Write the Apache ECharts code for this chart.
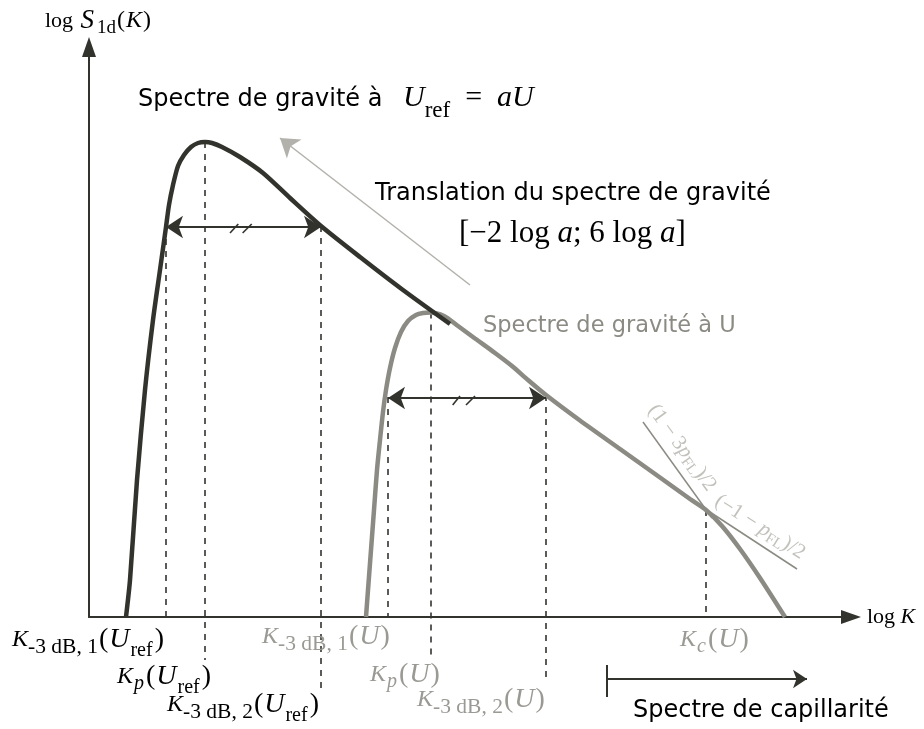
<!DOCTYPE html>
<html>
<head>
<meta charset="utf-8">
<script src="https://cdn.jsdelivr.net/npm/echarts@6/dist/echarts.min.js"></script>
<style>
html, body { margin: 0; padding: 0; background: #fff; }
#chart { width: 924px; height: 729px; }
</style>
</head>
<body>
<div id="chart"></div>
<script>
// Schematic units: x = log K, y = log S_1d(K) (arbitrary scale)
const X_MAX = 95.25;
const Y_MAX = 114;

// gravity spectrum at U_ref = aU (shifted spectrum)
const refCurve = [
  [4.625, 0], [5.125, 7.4], [6, 27.4], [7, 45.4], [8, 59.4], [8.875, 69.4],
  [9.625, 78], [10, 82.4], [10.5, 86.4], [11.125, 90.2], [11.875, 92.4],
  [12.75, 94], [13.625, 94.8], [14.5, 95], [15.375, 94.8], [16.625, 94],
  [18.875, 92], [21.75, 88.8], [25.125, 83.8], [29, 78.2], [33.875, 72],
  [39.25, 65.4], [45.125, 58.6]
];

// gravity spectrum at U, followed by the capillary range
const uCurve = [
  [34.625, 0], [34.875, 5.4], [35.25, 13.4], [35.625, 21.4], [36, 29.4],
  [36.375, 35.4], [36.75, 41], [37.125, 45.4], [37.625, 49.8], [38.25, 53.8],
  [39, 57], [39.875, 59.2], [40.875, 60.4], [41.75, 60.8], [42.625, 60.9],
  [44.375, 60.2], [46.125, 58.2], [48.25, 55.7], [50.75, 52.8], [52.875, 50.2],
  [54.875, 47.4], [57.125, 44.4], [61.375, 39.3], [66.375, 33.6], [71.375, 27.9],
  [75.125, 23.6], [77.125, 21.4], [79.125, 18.2], [81.375, 13.6], [83.875, 7.8], [87, 0]
];

// asymptotic slopes around K_c(U)
const slopeSteep = [[69.25, 39], [77.875, 19.8]];
const slopeShallow = [[75.125, 23.6], [88.5, 9.6]];

// dashed guides: [x, yTop, yBottom]
const guides = [
  [9.625, 78, 0], [14.5, 95, -8.6], [29, 78.2, -14.2],
  [37.375, 44, 0], [42.75, 60.9, -8.2], [57.125, 44.4, -12.6], [77.125, 21.4, 0]
];

// -3 dB widths (double arrows) and their "//" marks
const widthArrows = [
  [[9.625, 78], [29, 78]],
  [[37.375, 43.8], [57.125, 43.8]]
];
const slashMarks = [
  [[17.625, 76.8], [18.66, 78.6]], [[19.2, 76.8], [20.34, 78.6]],
  [[45.46, 42.4], [46.375, 44.2]], [[47.125, 42.4], [48.25, 44.2]]
];

// translation of the gravity spectrum
const shiftArrow = [[47.625, 66.4], [23.875, 95.8]];

// capillary range marker below the axis
const capBar = [[64.75, -9.6], [64.75, -16]];
const capArrow = [[64.75, -12.4], [89.75, -12.4]];

const DARK = '#33332e';
const GREY = '#8b8a83';
const LIGHT = '#b3b1ab';
const TEXT_GREY = '#9a9994';
const SLOPE_TEXT = '#c2c1bb';
const serif = '"Liberation Serif", "DejaVu Serif", serif';
const sans = '"DejaVu Sans", sans-serif';

const chart = echarts.init(document.getElementById('chart'));

function segs(list) { return list.map(c => ({ coords: c })); }

const series = [
  {
    type: 'line', data: uCurve, smooth: 0.25, symbol: 'none', clip: false, z: 3,
    lineStyle: { color: GREY, width: 4.5 }
  },
  {
    type: 'line', data: refCurve, smooth: 0.25, symbol: 'none', clip: false, z: 4,
    lineStyle: { color: DARK, width: 4.5 }
  },
  {
    type: 'lines', coordinateSystem: 'cartesian2d', clip: false, z: 2,
    symbol: 'none', lineStyle: { color: GREY, width: 1.5, opacity: 1 },
    data: segs([slopeSteep, slopeShallow])
  },
  {
    type: 'lines', coordinateSystem: 'cartesian2d', clip: false, z: 2,
    symbol: 'none', lineStyle: { color: DARK, width: 1.6, type: [6, 6], opacity: 1 },
    data: guides.map(g => ({ coords: [[g[0], g[1]], [g[0], g[2]]] }))
  },
  {
    type: 'lines', coordinateSystem: 'cartesian2d', clip: false, z: 5,
    symbol: ['arrow', 'arrow'], symbolSize: 17,
    lineStyle: { color: DARK, width: 2, opacity: 1 },
    data: segs(widthArrows)
  },
  {
    type: 'lines', coordinateSystem: 'cartesian2d', clip: false, z: 5,
    symbol: 'none', lineStyle: { color: DARK, width: 1.6, opacity: 1 },
    data: segs(slashMarks)
  },
  {
    type: 'lines', coordinateSystem: 'cartesian2d', clip: false, z: 2,
    symbol: ['none', 'arrow'], symbolSize: 18,
    lineStyle: { color: LIGHT, width: 1.5, opacity: 1 },
    data: segs([shiftArrow])
  },
  {
    type: 'lines', coordinateSystem: 'cartesian2d', clip: false, z: 2,
    symbol: ['none', 'arrow'], symbolSize: 14,
    lineStyle: { color: DARK, width: 2, opacity: 1 },
    data: segs([capArrow])
  },
  {
    type: 'lines', coordinateSystem: 'cartesian2d', clip: false, z: 2,
    symbol: 'none', lineStyle: { color: DARK, width: 2, opacity: 1 },
    data: segs([capBar])
  }
];

const axisCommon = {
  type: 'value', min: 0,
  axisTick: { show: false }, axisLabel: { show: false }, splitLine: { show: false },
  axisLine: {
    show: true, onZero: false, symbol: ['none', 'triangle'], symbolSize: [14, 20],
    lineStyle: { color: DARK, width: 2 }
  }
};

// token style helper: size, italic, vertical shift (positive = down), [left, right] padding
function tok(color, size, italic, shift, extraPad) {
  const pad = extraPad || [0, 0];
  return {
    fontFamily: serif, fontStyle: italic ? 'italic' : 'normal', fontSize: size, fill: color,
    padding: [shift > 0 ? 2 * shift : 0, pad[1], shift < 0 ? -2 * shift : 0, pad[0]]
  };
}

// wavenumber label styles: K with subscript, then (U) with optional "ref"
function kRich(color) {
  return {
    K: tok(color, 24, true, 0),
    s: tok(color, 21.5, false, 7),
    si: tok(color, 20, true, 7, [1, 1]),
    P: tok(color, 28, false, 0, [1, 1]),
    U: tok(color, 28, true, 0),
    f: tok(color, 20, false, 11, [1, 1])
  };
}

function kLabel(sub, subItalic, ref) {
  const st = subItalic ? 'si' : 's';
  return '{K|K}{' + st + '|' + sub + '}{P|(}{U|U}' + (ref ? '{f|ref}' : '') + '{P|)}';
}

function textEl(x, y, text, rich, extra) {
  return {
    type: 'text', x: x, y: y, z: 10,
    style: Object.assign({ text: text, rich: rich || {}, align: 'left', verticalAlign: 'middle' }, extra || {})
  };
}

const blackK = kRich('#000');
const greyK = kRich(TEXT_GREY);

const graphics = [
  // axis titles
  textEl(45, 21, '{l|log }{S|S}{d|1d}{p|(}{m|K}{p|)}', {
    l: tok('#000', 22, false, 0),
    S: tok('#000', 27, true, 0, [2, 3]),
    d: tok('#000', 19, false, 7),
    p: tok('#000', 24, false, 0, [1, 1]),
    m: tok('#000', 24, true, 0)
  }),
  textEl(867, 617, '{l|log }{m|K}', {
    l: tok('#000', 22, false, 0),
    m: tok('#000', 22, true, 0)
  }),
  // headings
  textEl(138, 100, 'Spectre de gravité à', null, { fontFamily: sans, fontSize: 24, fill: '#000' }),
  textEl(403, 98, '{m|U}{s|ref}{r|  =  }{m|aU}', {
    m: tok('#000', 30, true, 0),
    s: tok('#000', 23, false, 13),
    r: tok('#000', 30, false, 0)
  }),
  textEl(375, 194, 'Translation du spectre de gravité', null, { fontFamily: sans, fontSize: 24, fill: '#000' }),
  textEl(459, 234, '{r|[−2 log }{m|a}{r|; 6 log }{m|a}{r|]}', {
    r: tok('#000', 31, false, 0),
    m: tok('#000', 31, true, 0)
  }),
  textEl(483, 326, 'Spectre de gravité à U', null, { fontFamily: sans, fontSize: 22.5, fill: GREY }),
  textEl(633, 711, 'Spectre de capillarité', null, { fontFamily: sans, fontSize: 24, fill: '#000' }),
  // wavenumber labels
  textEl(12, 640, kLabel('-3 dB, 1', false, true), blackK),
  textEl(117, 677, kLabel('p', true, true), blackK),
  textEl(167, 705, kLabel('-3 dB, 2', false, true), blackK),
  textEl(262, 637, kLabel('-3 dB, 1', false, false), greyK),
  textEl(370, 675, kLabel('p', true, false), greyK),
  textEl(417, 700, kLabel('-3 dB, 2', false, false), greyK),
  textEl(680, 640, kLabel('c', true, false), greyK)
];

// slope labels written along their asymptotes
const slopeRich = {
  r: tok(SLOPE_TEXT, 21, false, 0),
  m: tok(SLOPE_TEXT, 21, true, 0),
  s: tok(SLOPE_TEXT, 15, false, 5)
};
const steepLabel = textEl(682, 448, '{r|(1 − 3}{m|p}{s|FL}{r|)/2}', slopeRich, { align: 'center' });
steepLabel.rotation = -54 * Math.PI / 180;
const shallowLabel = textEl(760, 527, '{r|(−1 − }{m|p}{s|FL}{r|)/2}', slopeRich, { align: 'center' });
shallowLabel.rotation = -32.6 * Math.PI / 180;
graphics.push(steepLabel, shallowLabel);

chart.setOption({
  animation: false,
  backgroundColor: '#fff',
  grid: { left: 89, right: 73, top: 47, bottom: 112, outerBoundsMode: 'none' },
  xAxis: Object.assign({}, axisCommon, { max: X_MAX }),
  yAxis: Object.assign({}, axisCommon, { max: Y_MAX }),
  series: series,
  graphic: graphics
});
</script>
</body>
</html>
